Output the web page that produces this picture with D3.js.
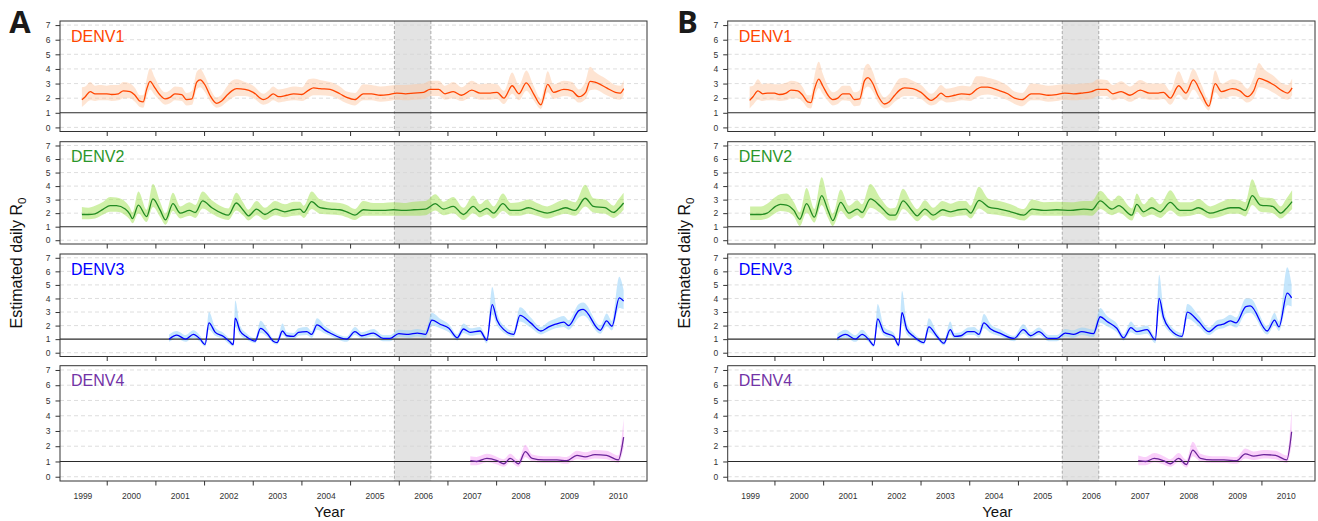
<!DOCTYPE html>
<html><head><meta charset="utf-8">
<script src="https://cdn.jsdelivr.net/npm/d3@7"></script>
<style>body{margin:0;background:#fff}svg{display:block}</style>
</head><body>
<svg id="c" width="1318" height="521"></svg>
<script>
// ---------- data ----------
const yearLabels = [1999,2000,2001,2002,2003,2004,2005,2006,2007,2008,2009,2010];
const yearTicks = [2000,2001,2002,2003,2004,2005,2006,2007,2008,2009,2010];
const yTicks = [0,1,2,3,4,5,6,7];
const shadeSpan = [2005.91, 2006.66];
const serotypes = ["DENV1","DENV2","DENV3","DENV4"];
const panelLetters = ["A","B"];

// rows: [year, mean, lower, upper]
const A_DENV1 = [
[1999.49,1.9,1.4,2.75],[1999.56,2.1,1.6,2.8],[1999.66,2.45,1.85,3.1],[1999.76,2.3,1.8,2.85],[1999.86,2.3,1.85,2.9],
[2000.0,2.3,1.85,2.85],[2000.1,2.25,1.8,2.9],[2000.24,2.3,1.85,2.9],[2000.34,2.5,2.0,3.1],[2000.48,2.45,2.0,3.0],
[2000.58,2.2,1.75,2.7],[2000.68,1.8,1.4,2.2],[2000.75,1.75,1.35,2.2],[2000.82,2.6,2.1,3.3],[2000.89,3.15,2.6,4.05],
[2000.99,2.7,2.2,3.4],[2001.1,2.2,1.8,2.7],[2001.2,1.95,1.55,2.4],[2001.3,2.05,1.65,2.55],[2001.4,2.3,1.85,2.8],
[2001.54,2.25,1.8,2.75],[2001.64,1.9,1.5,2.35],[2001.75,1.95,1.55,2.5],[2001.85,3.1,2.6,3.8],[2001.92,3.25,2.75,4.0],
[2002.02,2.9,2.4,3.5],[2002.12,2.2,1.8,2.7],[2002.26,1.65,1.35,2.05],[2002.36,1.8,1.45,2.25],[2002.47,2.2,1.75,2.8],
[2002.57,2.5,2.0,3.2],[2002.67,2.65,2.15,3.3],[2002.84,2.6,2.15,3.1],[2003.01,2.4,2.0,2.85],[2003.22,1.9,1.55,2.3],
[2003.32,2.05,1.65,2.5],[2003.42,2.3,1.85,2.8],[2003.53,2.1,1.7,2.6],[2003.7,2.2,1.8,2.7],[2003.84,2.3,1.85,2.8],
[2004.01,2.25,1.8,2.75],[2004.15,2.55,2.05,3.3],[2004.25,2.7,2.2,3.35],[2004.38,2.65,2.2,3.25],[2004.59,2.6,2.15,3.1],
[2004.79,2.3,1.9,2.8],[2004.93,2.05,1.65,2.45],[2005.1,1.9,1.5,2.35],[2005.27,2.3,1.85,2.95],[2005.44,2.3,1.85,2.9],
[2005.62,2.2,1.75,2.8],[2005.79,2.25,1.8,2.85],[2005.96,2.35,1.9,2.9],[2006.14,2.3,1.85,2.9],[2006.31,2.35,1.9,2.95],
[2006.51,2.4,1.95,3.0],[2006.64,2.6,2.15,3.2],[2006.82,2.6,2.15,3.2],[2006.95,2.3,1.9,2.85],[2007.12,2.45,2.0,3.1],
[2007.29,2.2,1.8,2.75],[2007.5,2.55,2.1,3.2],[2007.67,2.35,1.9,2.95],[2007.88,2.35,1.9,3.0],[2008.02,2.4,1.95,2.95],
[2008.16,2.0,1.6,2.5],[2008.33,2.85,2.3,3.75],[2008.47,2.3,1.85,2.9],[2008.62,3.05,2.5,3.9],[2008.77,2.3,1.85,2.85],
[2008.92,1.55,1.25,1.95],[2009.06,2.95,2.4,3.85],[2009.18,2.4,1.95,2.95],[2009.39,2.6,2.15,3.2],[2009.56,2.5,2.05,3.1],
[2009.7,2.1,1.7,2.6],[2009.84,2.4,1.95,3.2],[2009.93,3.15,2.55,4.15],[2010.03,3.1,2.6,3.8],[2010.27,2.7,2.2,3.3],
[2010.45,2.4,1.95,2.9],[2010.55,2.35,1.9,2.85],[2010.62,2.65,2.2,3.25]];

const B_DENV1 = [
[1999.49,1.85,1.3,2.8],[1999.56,2.1,1.55,2.85],[1999.66,2.5,1.9,3.3],[1999.76,2.3,1.8,2.95],[1999.86,2.35,1.85,3.0],
[2000.0,2.35,1.85,2.95],[2000.1,2.25,1.8,2.95],[2000.24,2.35,1.85,3.05],[2000.34,2.55,2.0,3.2],[2000.48,2.5,2.0,3.1],
[2000.58,2.2,1.75,2.75],[2000.68,1.75,1.35,2.2],[2000.75,1.7,1.3,2.2],[2000.82,2.6,2.05,3.5],[2000.91,3.3,2.7,4.5],
[2000.99,2.85,2.3,3.7],[2001.1,2.2,1.8,2.8],[2001.2,1.9,1.5,2.4],[2001.3,2.0,1.6,2.55],[2001.4,2.3,1.85,2.85],
[2001.54,2.3,1.8,2.85],[2001.64,1.9,1.45,2.4],[2001.75,1.95,1.5,2.55],[2001.85,3.2,2.6,4.1],[2001.92,3.4,2.8,4.35],
[2002.02,3.0,2.45,3.8],[2002.12,2.2,1.75,2.8],[2002.26,1.6,1.3,2.05],[2002.36,1.75,1.4,2.3],[2002.47,2.2,1.75,2.9],
[2002.57,2.55,2.0,3.35],[2002.67,2.7,2.15,3.4],[2002.84,2.65,2.15,3.2],[2003.01,2.4,1.95,2.9],[2003.22,1.85,1.5,2.3],
[2003.32,2.05,1.6,2.55],[2003.42,2.35,1.85,2.9],[2003.53,2.1,1.7,2.65],[2003.7,2.2,1.75,2.75],[2003.84,2.3,1.85,2.85],
[2004.01,2.25,1.8,2.8],[2004.15,2.6,2.05,3.5],[2004.25,2.75,2.2,3.5],[2004.38,2.75,2.25,3.4],[2004.59,2.55,2.1,3.2],
[2004.79,2.3,1.85,2.85],[2004.93,2.0,1.6,2.45],[2005.09,1.9,1.45,2.35],[2005.27,2.3,1.85,3.0],[2005.44,2.3,1.85,2.95],
[2005.62,2.2,1.75,2.85],[2005.79,2.25,1.8,2.9],[2005.96,2.35,1.9,2.95],[2006.14,2.3,1.85,2.95],[2006.31,2.35,1.9,3.0],
[2006.51,2.45,1.95,3.05],[2006.64,2.6,2.15,3.3],[2006.82,2.6,2.15,3.25],[2006.95,2.3,1.85,2.9],[2007.12,2.45,2.0,3.15],
[2007.3,2.2,1.75,2.8],[2007.51,2.55,2.05,3.25],[2007.7,2.35,1.9,3.0],[2007.88,2.35,1.9,3.0],[2007.99,2.4,1.95,3.0],
[2008.13,2.0,1.55,2.5],[2008.3,2.85,2.25,3.85],[2008.45,2.35,1.85,2.95],[2008.6,3.25,2.6,4.0],[2008.77,2.3,1.8,2.9],
[2008.92,1.45,1.15,1.85],[2009.05,3.0,2.4,3.9],[2009.18,2.45,1.95,3.0],[2009.4,2.65,2.15,3.3],[2009.56,2.5,2.05,3.15],
[2009.71,2.1,1.7,2.65],[2009.84,2.5,2.0,3.4],[2009.95,3.35,2.75,4.4],[2010.05,3.25,2.7,4.0],[2010.26,2.9,2.35,3.5],
[2010.43,2.5,2.0,3.0],[2010.54,2.35,1.9,2.9],[2010.63,2.7,2.2,3.35]];

const A_DENV2 = [
[1999.49,1.9,1.55,2.45],[1999.62,1.9,1.55,2.4],[1999.76,1.95,1.6,2.55],[1999.93,2.3,1.9,2.85],[2000.07,2.55,2.1,3.2],
[2000.2,2.55,2.1,3.15],[2000.38,2.3,1.85,2.85],[2000.47,1.95,1.55,2.45],[2000.53,1.6,1.25,2.05],[2000.65,2.6,2.0,3.6],
[2000.82,1.75,1.35,2.25],[2000.95,3.05,2.45,4.15],[2001.1,2.2,1.7,2.8],[2001.21,1.5,1.15,1.95],[2001.36,2.7,2.15,3.5],
[2001.51,2.0,1.6,2.5],[2001.7,2.2,1.8,2.8],[2001.82,2.05,1.65,2.6],[2001.97,2.9,2.35,3.6],[2002.16,2.4,1.95,2.95],
[2002.36,2.0,1.6,2.5],[2002.5,1.85,1.5,2.35],[2002.66,2.75,2.2,3.5],[2002.81,2.2,1.8,2.75],[2002.91,1.8,1.45,2.25],
[2003.08,2.3,1.85,2.9],[2003.25,1.9,1.5,2.4],[2003.46,2.3,1.85,2.9],[2003.66,2.1,1.7,2.65],[2003.84,2.25,1.8,2.85],
[2003.97,2.3,1.85,2.85],[2004.05,2.05,1.65,2.55],[2004.21,2.85,2.3,3.6],[2004.38,2.4,1.95,3.0],[2004.59,2.3,1.9,2.8],
[2004.79,2.25,1.85,2.75],[2004.93,2.1,1.7,2.6],[2005.1,1.85,1.5,2.3],[2005.27,2.25,1.8,2.9],[2005.48,2.2,1.8,2.75],
[2005.68,2.2,1.8,2.75],[2005.89,2.25,1.8,2.8],[2006.1,2.2,1.8,2.75],[2006.31,2.25,1.8,2.85],[2006.55,2.3,1.85,2.9],
[2006.75,2.7,2.2,3.4],[2006.92,2.3,1.85,2.85],[2007.12,2.5,2.0,3.2],[2007.33,1.9,1.5,2.4],[2007.53,2.5,2.0,3.3],
[2007.67,2.1,1.7,2.65],[2007.81,2.35,1.9,3.0],[2007.95,2.0,1.6,2.5],[2008.14,2.7,2.15,3.45],[2008.3,2.2,1.8,2.75],
[2008.47,2.2,1.8,2.8],[2008.67,2.4,1.95,3.0],[2008.84,2.2,1.8,2.75],[2009.05,2.0,1.6,2.5],[2009.25,2.2,1.8,2.8],
[2009.42,2.4,1.95,3.0],[2009.62,2.2,1.8,2.8],[2009.83,3.1,2.5,4.1],[2010.0,2.5,2.05,3.1],[2010.24,2.4,1.95,3.0],
[2010.41,2.05,1.65,2.55],[2010.51,2.3,1.85,3.0],[2010.62,2.75,2.25,3.5]];

const B_DENV2 = [
[1999.5,1.9,1.5,2.5],[1999.72,1.9,1.5,2.5],[1999.85,2.0,1.6,2.7],[2000.02,2.5,2.0,3.2],[2000.12,2.65,2.15,3.4],
[2000.25,2.6,2.1,3.45],[2000.4,2.2,1.75,2.8],[2000.52,1.55,1.05,2.05],[2000.66,2.7,2.05,3.85],[2000.82,1.7,1.3,2.3],
[2000.97,3.3,2.6,4.65],[2001.1,2.2,1.65,2.9],[2001.2,1.45,1.05,1.95],[2001.36,2.8,2.15,3.75],[2001.53,2.0,1.55,2.55],
[2001.7,2.3,1.85,2.95],[2001.8,2.05,1.6,2.65],[2001.97,3.05,2.4,4.15],[2002.18,2.5,2.0,3.1],[2002.38,1.85,1.45,2.35],
[2002.48,1.85,1.45,2.4],[2002.64,2.9,2.3,3.8],[2002.82,2.2,1.75,2.75],[2002.93,1.8,1.4,2.3],[2003.09,2.3,1.85,2.95],
[2003.26,1.85,1.45,2.4],[2003.45,2.25,1.8,2.9],[2003.62,2.1,1.7,2.7],[2003.79,2.25,1.8,2.9],[2003.93,2.3,1.85,2.9],
[2004.03,2.0,1.6,2.55],[2004.2,2.95,2.35,3.95],[2004.4,2.45,1.95,3.05],[2004.62,2.3,1.85,2.9],[2004.85,2.1,1.7,2.65],
[2005.12,1.85,1.45,2.3],[2005.29,2.3,1.85,3.0],[2005.53,2.2,1.8,2.8],[2005.8,2.25,1.8,2.85],[2006.08,2.2,1.8,2.8],
[2006.35,2.3,1.85,2.9],[2006.52,2.25,1.8,2.9],[2006.69,2.9,2.3,3.65],[2006.93,2.3,1.85,2.9],[2007.07,2.55,2.05,3.3],
[2007.34,1.85,1.45,2.35],[2007.44,2.65,2.1,3.45],[2007.58,2.1,1.7,2.65],[2007.75,2.4,1.9,3.2],[2007.92,2.1,1.65,2.65],
[2008.13,2.8,2.2,3.7],[2008.33,2.2,1.75,2.8],[2008.54,2.2,1.8,2.8],[2008.71,2.4,1.95,3.05],[2008.95,2.0,1.6,2.5],
[2009.16,2.2,1.75,2.8],[2009.36,2.4,1.95,3.05],[2009.53,2.4,1.95,3.0],[2009.67,2.2,1.75,2.8],[2009.81,3.3,2.6,4.5],
[2009.98,2.6,2.1,3.2],[2010.23,2.5,2.0,3.1],[2010.4,2.0,1.6,2.5],[2010.5,2.3,1.85,3.0],[2010.63,2.85,2.3,3.7]];

const A_DENV3 = [
[2001.28,1.0,0.8,1.35],[2001.44,1.3,1.05,1.6],[2001.62,1.0,0.8,1.3],[2001.78,1.35,1.1,1.65],[2001.92,1.0,0.8,1.25],
[2002.02,0.6,0.45,0.8],[2002.1,2.2,1.7,3.0],[2002.23,1.5,1.25,1.85],[2002.4,1.2,1.0,1.45],[2002.53,0.8,0.6,1.0],
[2002.6,0.6,0.45,0.8],[2002.64,2.55,1.9,3.85],[2002.74,1.6,1.3,2.0],[2002.88,1.15,0.95,1.4],[2003.05,0.85,0.7,1.05],
[2003.16,1.8,1.45,2.35],[2003.3,1.4,1.15,1.7],[2003.42,0.85,0.7,1.05],[2003.5,0.75,0.6,0.95],[2003.61,1.6,1.3,2.15],
[2003.7,1.25,1.05,1.5],[2003.84,1.2,1.0,1.45],[2003.94,1.5,1.25,1.8],[2004.11,1.55,1.3,1.9],[2004.21,1.35,1.1,1.6],
[2004.32,2.05,1.7,2.55],[2004.49,1.65,1.4,1.95],[2004.59,1.45,1.25,1.7],[2004.93,1.0,0.8,1.2],[2005.1,1.55,1.3,1.9],
[2005.24,1.25,1.05,1.5],[2005.48,1.45,1.2,1.75],[2005.68,1.05,0.85,1.3],[2005.82,1.05,0.85,1.3],[2006.0,1.4,1.15,1.7],
[2006.2,1.35,1.1,1.65],[2006.38,1.45,1.2,1.75],[2006.55,1.35,1.1,1.65],[2006.68,2.4,2.0,2.95],[2006.85,2.1,1.8,2.5],
[2007.03,1.8,1.5,2.1],[2007.2,1.1,0.9,1.35],[2007.33,1.75,1.45,2.15],[2007.47,1.5,1.25,1.8],[2007.67,1.6,1.35,1.9],
[2007.81,0.92,0.7,1.15],[2007.92,3.55,2.8,4.85],[2008.02,2.4,2.0,2.95],[2008.16,1.7,1.45,2.0],[2008.36,1.35,1.15,1.6],
[2008.49,2.75,2.3,3.35],[2008.71,2.2,1.85,2.6],[2008.92,1.6,1.35,1.9],[2009.08,1.9,1.6,2.3],[2009.22,2.1,1.8,2.5],
[2009.39,2.25,1.9,2.7],[2009.49,2.0,1.7,2.4],[2009.7,3.1,2.6,3.6],[2009.79,3.2,2.75,3.7],[2010.14,1.65,1.4,2.0],
[2010.27,2.35,1.95,2.9],[2010.38,1.95,1.65,2.35],[2010.53,4.05,3.3,5.6],[2010.62,3.8,3.2,4.6]];

const B_DENV3 = [
[2001.29,1.05,0.85,1.4],[2001.46,1.35,1.1,1.7],[2001.66,1.0,0.8,1.3],[2001.8,1.35,1.1,1.7],[2001.93,1.0,0.8,1.25],
[2002.04,0.55,0.4,0.75],[2002.12,2.5,1.9,3.6],[2002.25,1.5,1.25,1.9],[2002.45,1.2,1.0,1.45],[2002.55,0.55,0.4,0.75],
[2002.62,2.95,2.2,4.55],[2002.72,1.7,1.35,2.15],[2002.86,1.2,1.0,1.45],[2003.07,0.75,0.6,0.95],[2003.17,1.9,1.5,2.55],
[2003.34,1.2,1.0,1.45],[2003.48,0.7,0.55,0.9],[2003.61,1.7,1.35,2.3],[2003.7,1.2,1.0,1.45],[2003.83,1.25,1.05,1.5],
[2003.97,1.55,1.3,1.85],[2004.1,1.55,1.3,1.9],[2004.2,1.35,1.1,1.65],[2004.3,2.2,1.8,2.85],[2004.44,1.75,1.45,2.1],
[2004.65,1.4,1.2,1.7],[2004.92,1.05,0.85,1.25],[2005.11,1.7,1.4,2.1],[2005.26,1.25,1.05,1.5],[2005.43,1.55,1.3,1.85],
[2005.63,1.05,0.85,1.3],[2005.8,1.05,0.85,1.3],[2005.97,1.45,1.2,1.75],[2006.14,1.35,1.1,1.65],[2006.31,1.55,1.3,1.85],
[2006.55,1.4,1.15,1.7],[2006.69,2.65,2.2,3.3],[2006.83,2.3,1.95,2.7],[2007.03,1.8,1.5,2.15],[2007.17,1.1,0.9,1.35],
[2007.32,1.85,1.5,2.3],[2007.44,1.55,1.3,1.85],[2007.65,1.7,1.4,2.0],[2007.82,0.95,0.7,1.2],[2007.9,4.0,3.1,5.75],
[2007.99,2.6,2.15,3.2],[2008.13,1.7,1.45,2.0],[2008.37,1.2,1.0,1.45],[2008.48,3.0,2.5,3.6],[2008.71,2.3,1.95,2.75],
[2008.92,1.55,1.3,1.85],[2009.09,2.0,1.7,2.4],[2009.22,2.1,1.8,2.5],[2009.36,2.35,2.0,2.8],[2009.48,2.2,1.85,2.6],
[2009.68,3.4,2.9,4.0],[2009.77,3.45,2.95,4.0],[2010.12,1.6,1.35,1.95],[2010.27,2.4,2.0,2.95],[2010.36,1.9,1.6,2.3],
[2010.53,4.4,3.5,6.3],[2010.62,4.05,3.4,5.0]];

const A_DENV4 = [
[2007.47,1.05,0.75,1.35],[2007.6,1.0,0.75,1.3],[2007.81,1.2,0.95,1.5],[2008.02,1.05,0.8,1.3],[2008.16,0.85,0.65,1.15],
[2008.29,1.2,0.95,1.5],[2008.46,0.85,0.65,1.1],[2008.6,1.65,1.3,2.1],[2008.74,1.2,1.0,1.45],[2008.98,1.1,0.9,1.35],
[2009.25,1.1,0.9,1.35],[2009.45,1.05,0.85,1.3],[2009.66,1.4,1.15,1.7],[2009.83,1.3,1.1,1.6],[2010.03,1.45,1.2,1.75],
[2010.27,1.4,1.15,1.7],[2010.51,1.1,0.9,1.4],[2010.62,2.6,1.9,3.8]];

const B_DENV4 = [
[2007.47,1.05,0.75,1.4],[2007.62,1.0,0.75,1.3],[2007.8,1.2,0.95,1.55],[2007.99,1.05,0.8,1.35],[2008.13,0.85,0.65,1.15],
[2008.3,1.2,0.95,1.55],[2008.46,0.8,0.6,1.1],[2008.59,1.75,1.35,2.3],[2008.75,1.2,1.0,1.5],[2008.99,1.1,0.9,1.35],
[2009.23,1.1,0.9,1.35],[2009.49,1.05,0.85,1.3],[2009.67,1.5,1.2,1.85],[2009.84,1.35,1.1,1.65],[2010.05,1.45,1.2,1.75],
[2010.29,1.4,1.15,1.7],[2010.52,1.1,0.9,1.4],[2010.62,2.95,2.1,4.4]];

// ---------- styling / layout ----------
const lineColors = ["#ff4500","#228b22","#0000ff","#6a2399"];
const labelColors = ["#ff4500","#2a962a","#0000ff","#7233a6"];
const bandColors = ["rgba(253,196,155,0.45)","rgba(160,225,80,0.5)","rgba(140,205,250,0.5)","rgba(245,150,245,0.45)"];
const panelsX = [[60,647],[727.7,1315]];
const rowsY = [[21,131.5],[141.7,244],[254,356.5],[365.7,481]];
const seriesByPanel = [[A_DENV1,A_DENV2,A_DENV3,A_DENV4],[B_DENV1,B_DENV2,B_DENV3,B_DENV4]];

const svg = d3.select("#c");
const FONT = "'Liberation Sans', Arial, sans-serif";

panelsX.forEach((px, p) => {
  const x = d3.scaleLinear().domain([1999.04, 2011.1]).range(px);

  // panel letter
  svg.append("text").attr("x", px[0]-50.7).attr("y", 33.3)
    .attr("font-family","'Open Sans', sans-serif").attr("font-weight",700)
    .attr("font-size",31).attr("fill","#1a1a1a").text(panelLetters[p]);

  // y title
  const yt = svg.append("text")
    .attr("transform", `translate(${px[0]-38},263) rotate(-90)`)
    .attr("text-anchor","middle").attr("font-family",FONT).attr("font-size",16).attr("fill","#111");
  yt.append("tspan").text("Estimated daily R");
  yt.append("tspan").attr("dy",4).attr("font-size",11.5).text("0");

  // x title
  svg.append("text").attr("x", (px[0]+px[1])/2 - 24).attr("y", 516.7)
    .attr("text-anchor","middle").attr("font-family",FONT).attr("font-size",15).attr("fill","#111").text("Year");

  rowsY.forEach((ry, r) => {
    const y = d3.scaleLinear().domain([-0.28, 7.28]).range([ry[1], ry[0]]);
    const g = svg.append("g");
    const data = seriesByPanel[p][r];

    const clipId = `clip${p}${r}`;
    g.append("clipPath").attr("id", clipId).append("rect")
      .attr("x", px[0]).attr("y", ry[0]).attr("width", px[1]-px[0]).attr("height", ry[1]-ry[0]);

    // shaded period
    g.append("rect").attr("x", x(shadeSpan[0])).attr("y", ry[0])
      .attr("width", x(shadeSpan[1]) - x(shadeSpan[0])).attr("height", ry[1]-ry[0])
      .attr("fill", "#e3e3e3");

    // grid
    g.selectAll(".grid").data(yTicks.filter(v => v !== 1)).join("line")
      .attr("x1", px[0]).attr("x2", px[1]).attr("y1", d => y(d)).attr("y2", d => y(d))
      .attr("stroke", "#d6d6d6").attr("stroke-width", 0.8).attr("stroke-dasharray", "4,3");

    // shaded edges
    g.selectAll(".edge").data(shadeSpan).join("line")
      .attr("x1", d => x(d)).attr("x2", d => x(d)).attr("y1", ry[0]).attr("y2", ry[1])
      .attr("stroke", "#9a9a9a").attr("stroke-width", 0.8).attr("stroke-dasharray", "3,2");

    const inner = g.append("g").attr("clip-path", `url(#${clipId})`);
    // band
    inner.append("path").datum(data)
      .attr("d", d3.area().curve(d3.curveMonotoneX).x(d => x(d[0])).y0(d => y(d[2])).y1(d => y(d[3])))
      .attr("fill", bandColors[r]);

    // reference line R0 = 1
    inner.append("line").attr("x1", px[0]).attr("x2", px[1]).attr("y1", y(1)).attr("y2", y(1))
      .attr("stroke", "#2a2a2a").attr("stroke-width", 1.1);

    // mean line
    inner.append("path").datum(data)
      .attr("d", d3.line().curve(d3.curveMonotoneX).x(d => x(d[0])).y(d => y(d[1])))
      .attr("fill", "none").attr("stroke", lineColors[r]).attr("stroke-width", 1.3);

    // box
    g.append("rect").attr("x", px[0]).attr("y", ry[0]).attr("width", px[1]-px[0]).attr("height", ry[1]-ry[0])
      .attr("fill", "none").attr("stroke", "#333").attr("stroke-width", 1);

    // y axis
    const ya = g.append("g").attr("transform", `translate(${px[0]},0)`)
      .call(d3.axisLeft(y).tickValues(yTicks).tickSize(4.5).tickPadding(5).tickFormat(d3.format("d")));
    ya.select(".domain").remove();
    ya.selectAll("line").attr("stroke","#333");
    ya.selectAll("text").attr("font-family", FONT).attr("font-size", 8.5).attr("fill", "#333");

    // x axis ticks
    const xa = g.append("g").attr("transform", `translate(0,${ry[1]})`)
      .call(d3.axisBottom(x).tickValues(yearTicks).tickSize(4.5).tickFormat(""));
    xa.select(".domain").remove();
    xa.selectAll("line").attr("stroke","#333");

    if (r === rowsY.length - 1) {
      const xl = g.append("g").attr("transform", `translate(0,${ry[1]})`)
        .call(d3.axisBottom(x).tickValues(yearLabels.map(v => v + 0.5)).tickSize(0).tickPadding(12)
          .tickFormat(v => String(Math.floor(v))));
      xl.select(".domain").remove();
      xl.selectAll("text").attr("font-family", FONT).attr("font-size", 8.5).attr("fill", "#333");
    }

    // serotype label
    g.append("text").attr("x", px[0] + 11).attr("y", ry[0] + 20.5)
      .attr("font-family", FONT).attr("font-size", 16).attr("fill", labelColors[r]).text(serotypes[r]);
  });
});
</script>
</body></html>
